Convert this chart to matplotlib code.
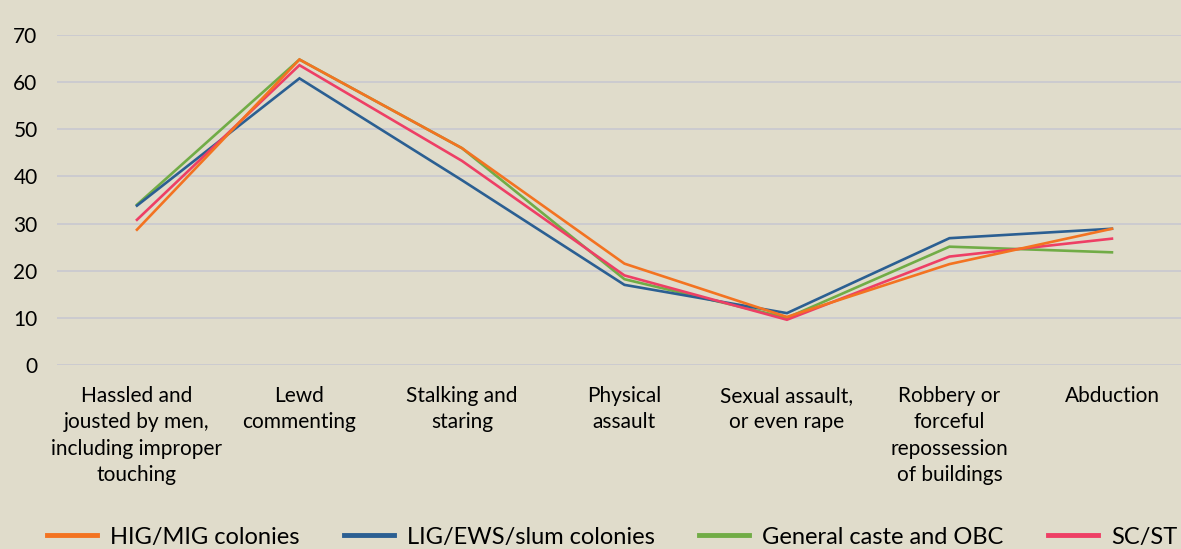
import numpy as np
import matplotlib
matplotlib.use("Agg")
import matplotlib.pyplot as plt

plt.rcParams['font.family'] = ['Lato', 'DejaVu Sans']

# %% Data
categories = [
    "Hassled and\njousted by men,\nincluding improper\ntouching",
    "Lewd\ncommenting",
    "Stalking and\nstaring",
    "Physical\nassault",
    "Sexual assault,\nor even rape",
    "Robbery or\nforceful\nrepossession\nof buildings",
    "Abduction",
]
hig_mig = [28.7, 64.8, 46.0, 21.5, 10.2, 21.4, 28.9]
lig_ews = [33.8, 60.8, 39.2, 17.0, 11.0, 26.9, 28.9]
general_obc = [34.0, 64.8, 46.0, 18.2, 10.0, 25.1, 23.9]
sc_st = [30.8, 63.6, 43.3, 19.0, 9.6, 23.0, 26.8]

series = [
    ("HIG/MIG colonies", hig_mig, "#F37321", 5),
    ("LIG/EWS/slum colonies", lig_ews, "#2B5F92", 3),
    ("General caste and OBC", general_obc, "#71AC46", 2),
    ("SC/ST", sc_st, "#EE3F65", 4),
]

bg = "#E0DCCB"

# %% Plot
fig = plt.figure(figsize=(11.81, 5.49), dpi=100, facecolor=bg)
ax = fig.add_axes([57 / 1181, (549 - 365) / 549, 1 - 57 / 1181, 330 / 549])
ax.set_facecolor(bg)

x = np.arange(len(categories))
for name, vals, color, z in series:
    ax.plot(x, vals, color=color, lw=1.9, label=name, zorder=z,
            solid_joinstyle="miter")

ax.set_ylim(0, 70)
ax.set_xlim(-0.492, 6.425)
ax.set_yticks(np.arange(0, 71, 10))
ax.set_xticks(x)
ax.set_xticklabels(categories, fontsize=15, linespacing=1.4, va="top")
ax.tick_params(axis="y", length=0, pad=14, labelsize=15)
ax.tick_params(axis="x", length=0, pad=15)
ax.grid(axis="y", color="#CACAD0", lw=1.3, zorder=0)
ax.set_axisbelow(True)
for sp in ax.spines.values():
    sp.set_visible(False)

handles, labels = ax.get_legend_handles_labels()
leg = fig.legend(handles, labels, loc="lower left", bbox_to_anchor=(0.022, -0.036),
                 ncol=4, frameon=False, fontsize=17, handlelength=2.1,
                 handletextpad=0.55, columnspacing=1.9)
for line in leg.get_lines():
    line.set_linewidth(3.5)

fig.savefig("out.png", dpi=100, facecolor=bg)
